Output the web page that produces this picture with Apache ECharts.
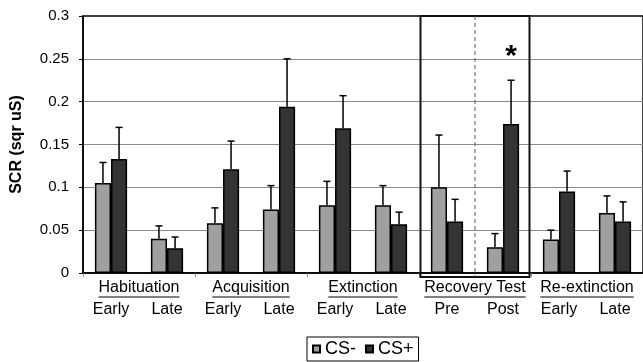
<!DOCTYPE html>
<html><head><meta charset="utf-8">
<script src="https://cdn.jsdelivr.net/npm/echarts@6/dist/echarts.min.js"></script>
<style>html,body{margin:0;padding:0;background:#fff;}#c{width:643px;height:362px;}</style>
</head><body><div id="c"></div>
<script>
const categories = ['Early','Late','Early','Late','Early','Late','Pre','Post','Early','Late'];
const groups = ['Habituation','Acquisition','Extinction','Recovery Test','Re-extinction'];
const csMinus = [0.105,0.040,0.058,0.074,0.079,0.079,0.100,0.030,0.039,0.070];
const csMinusUpper = [0.129,0.055,0.076,0.102,0.107,0.102,0.161,0.046,0.050,0.090];
const csPlus = [0.133,0.029,0.121,0.194,0.169,0.057,0.060,0.174,0.095,0.060];
const csPlusUpper = [0.170,0.042,0.154,0.250,0.207,0.071,0.086,0.225,0.119,0.083];
const seriesNames = ['CS-','CS+'];
const yMin = 0, yMax = 0.3, yInterval = 0.05;
const highlightRange = [6, 7];
const asterisk = [7, 0.26];

const FONT = '"Liberation Sans", Arial, sans-serif';
const GAP = 0.425;
const chart = echarts.init(document.getElementById('c'));
const mctx = document.createElement('canvas').getContext('2d');
mctx.font = '16px "Liberation Sans", Arial';

const errData = [];
csMinus.forEach((v,i)=>errData.push([i, v, csMinusUpper[i], 0]));
csPlus.forEach((v,i)=>errData.push([i, v, csPlusUpper[i], 1]));

chart.setOption({
  animation:false,
  textStyle:{fontFamily:FONT},
  grid:{left:83, top:16, right:-4, bottom:89, show:true, borderColor:'#000', borderWidth:1.5},
  legend:{data:seriesNames, left:307, top:337, itemWidth:7, itemHeight:7, itemGap:9, icon:'rect',
    borderColor:'#000', borderWidth:1, padding:[3,5,3,5],
    textStyle:{fontSize:18, color:'#000', fontFamily:FONT}},
  xAxis:{type:'category', data:categories,
    axisLine:{lineStyle:{color:'#000', width:1.5}},
    axisTick:{show:true, length:4, interval:function(i){return i%2===0;}, lineStyle:{color:'#888'}},
    axisLabel:{color:'#000', fontSize:16, margin:29, interval:0, fontFamily:FONT}},
  yAxis:{type:'value', min:yMin, max:yMax, interval:yInterval,
    name:'SCR (sqr uS)', nameLocation:'middle', nameGap:58,
    nameTextStyle:{fontSize:16, fontWeight:'bold', color:'#000', fontFamily:FONT},
    axisLine:{show:true, lineStyle:{color:'#000', width:1.5}},
    axisTick:{show:true, length:4, lineStyle:{color:'#000'}},
    axisLabel:{color:'#000', fontSize:15, margin:14, fontFamily:FONT},
    splitLine:{show:true, showMinLine:false, showMaxLine:false, lineStyle:{color:'#8a8a8a', width:1}}},
  series:[
    {name:'CS-', type:'bar', data:csMinus, barGap:'0%', barCategoryGap:(GAP*100)+'%',
      itemStyle:{color:'#a0a0a0', borderColor:'#000', borderWidth:1.5}, z:3},
    {name:'CS+', type:'bar', data:csPlus, barGap:'0%', barCategoryGap:(GAP*100)+'%',
      itemStyle:{color:'#343434', borderColor:'#000', borderWidth:1.5}, z:3},
    {type:'custom', data:errData, z:4, clip:false, encode:{x:0,y:1},
      renderItem:function(params, api){
        const i=api.value(0), s=api.value(3);
        const c=api.coord([i, api.value(1)]), u=api.coord([i, api.value(2)]);
        const band=api.size([1,0])[0], bw=band*(1-GAP)/2;
        const x=c[0]+(s===0?-bw/2:bw/2);
        const st={stroke:'#000', lineWidth:1.5};
        return {type:'group', children:[
          {type:'line', shape:{x1:x,y1:c[1],x2:x,y2:u[1]}, style:st},
          {type:'line', shape:{x1:x-3.5,y1:u[1],x2:x+3.5,y2:u[1]}, style:st}]};
      }},
    {type:'custom', data:groups.map((g,k)=>[2*k, 0, k]), z:5, clip:false, encode:{x:0,y:1}, silent:true,
      renderItem:function(params, api){
        const k=api.value(2);
        const a=api.coord([2*k,0]), b=api.coord([2*k+1,0]);
        const cx=(a[0]+b[0])/2, y0=a[1];
        const w=mctx.measureText(groups[k]).width;
        return {type:'group', children:[
          {type:'text', style:{text:groups[k], x:cx, y:y0+15, align:'center', verticalAlign:'middle',
            font:'16px '+FONT, fill:'#000'}},
          {type:'line', shape:{x1:cx-w/2, y1:y0+24, x2:cx+w/2, y2:y0+24}, style:{stroke:'#000', lineWidth:1}}]};
      }},
    {type:'custom', data:[[highlightRange[0], yMax, highlightRange[1]]], z:6, clip:false, encode:{x:0,y:1}, silent:true,
      renderItem:function(params, api){
        const a=api.coord([api.value(0), api.value(1)]), b=api.coord([api.value(2), 0]);
        const band=api.size([1,0])[0];
        const x1=a[0]-band/2+1.5, x2=b[0]+band/2-1.5, mid=(a[0]+b[0])/2;
        return {type:'group', children:[
          {type:'rect', shape:{x:x1, y:a[1], width:x2-x1, height:b[1]+4-a[1]}, style:{fill:'none', stroke:'#111', lineWidth:2}},
          {type:'line', shape:{x1:mid, y1:a[1], x2:mid, y2:b[1]+4}, style:{stroke:'#555', lineWidth:1, lineDash:[4,3]}}]};
      }},
    {type:'custom', data:[asterisk], z:6, clip:false, encode:{x:0,y:1}, silent:true,
      renderItem:function(params, api){
        const p=api.coord([api.value(0), api.value(1)]);
        const band=api.size([1,0])[0], bw=band*(1-GAP)/2;
        return {type:'text', style:{text:'*', x:p[0]+bw/2, y:p[1]+6, align:'center', verticalAlign:'middle',
          font:'bold 30px '+FONT, fill:'#000'}};
      }}
  ]
});
</script></body></html>
